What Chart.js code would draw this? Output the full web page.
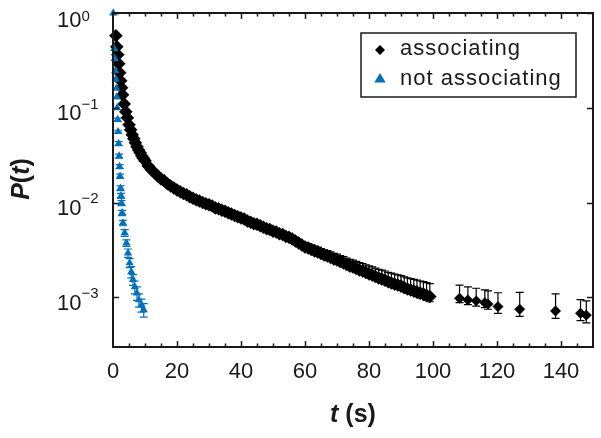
<!DOCTYPE html>
<html lang="en">
<head>
  <meta charset="UTF-8">
  <title>P(t)</title>
  <script src="https://cdn.jsdelivr.net/npm/chart.js"></script>
  <style>
    html, body {
      margin: 0;
      padding: 0;
      background: #fff;
    }
    #wrap {
      width: 601px;
      height: 438px;
    }
  </style>
</head>
<body>
  <div id="wrap"><canvas id="grafico" width="601" height="438"></canvas></div>

  <script>
    // associating: t (s), P(t), error bars (upper / lower)
    const assocT = [0.9, 1.2, 1.5, 1.8, 2.1, 2.4, 2.7, 3.0, 3.5, 4.0, 4.5, 5.0, 5.5, 6.0, 6.5, 7.0, 7.5, 8.0, 8.5, 9.0, 9.5, 10,
      11, 12, 13, 14, 15, 16, 17, 18, 19, 20, 21, 22, 23, 24, 25, 26, 27, 28, 29, 30,
      31, 32, 33, 34, 35, 36, 37, 38, 39, 40, 41, 42, 43, 44, 45, 46, 47, 48, 49, 50,
      51, 52, 53, 54, 55, 56, 57, 58, 59, 60, 61, 62, 63, 64, 65, 66, 67, 68, 69, 70,
      71, 72, 73, 74, 75, 76, 77, 78, 79, 80, 81, 82, 83, 84, 85, 86, 87, 88, 89, 90,
      91, 92, 93, 94, 95, 96, 97, 98, 99,
      108.3, 110.9, 113.5, 116.2, 117.2, 120.3, 127.1, 138.3, 146.1, 147.9];
    const assocP = [0.576, 0.440, 0.363, 0.291, 0.234, 0.193, 0.163, 0.137, 0.110, 0.0907, 0.0784, 0.0661, 0.0586, 0.0519, 0.0471, 0.0427, 0.0388, 0.0360, 0.0335, 0.0311, 0.0293, 0.0276,
      0.0244, 0.0222, 0.0206, 0.0191, 0.0178, 0.0170, 0.0158, 0.0150, 0.0143, 0.0136,
      0.0130, 0.0125, 0.0121, 0.0115, 0.0111, 0.0107, 0.0104, 0.0100, 0.0097, 0.0095,
      0.0092, 0.0088, 0.0086, 0.0083, 0.0081, 0.0078, 0.0076, 0.0073, 0.0071, 0.0069,
      0.0067, 0.0064, 0.0062, 0.0060, 0.0059, 0.0057, 0.0055, 0.0053, 0.0052, 0.0050,
      0.0049, 0.0047, 0.0046, 0.0044, 0.0043, 0.00414, 0.00394, 0.00375, 0.00358, 0.00340,
      0.00332, 0.00320, 0.00309, 0.00301, 0.00290, 0.00280, 0.00274, 0.00264, 0.00254, 0.00248,
      0.00239, 0.00231, 0.00222, 0.00214, 0.00209, 0.00202, 0.00195, 0.00190, 0.00183, 0.00177,
      0.00172, 0.00166, 0.00160, 0.00156, 0.00152, 0.00146, 0.00142, 0.00138, 0.00135, 0.00132,
      0.00127, 0.00123, 0.00120, 0.00117, 0.00114, 0.00111, 0.00109, 0.00105, 0.00102,
      0.00098, 0.00094, 0.00092, 0.00088, 0.00085, 0.00080, 0.00075, 0.00072, 0.00068, 0.00065];
    const assocErrUp = [0, 0, 0, 0, 0, 0, 0, 0, 0, 0, 0, 0, 0, 0, 0, 0, 0, 0, 0, 0, 0, 0,
      0.0003, 0.0003, 0.0003, 0.0003, 0.0003, 0.0003, 0.0003, 0.0003, 0.0003, 0.0003,
      0.0003, 0.0003, 0.0003, 0.0003, 0.0003, 0.0003, 0.0003, 0.0003, 0.0003, 0.0003,
      0.0003, 0.0003, 0.0003, 0.0003, 0.0003, 0.0003, 0.0003, 0.0003, 0.0003, 0.0003,
      0.0003, 0.0003, 0.0003, 0.0003, 0.0003, 0.0003, 0.0003, 0.0003, 0.0003, 0.0003,
      0.0003, 0.0003, 0.0003, 0.0003, 0.0003, 0.0003, 0.0003, 0.0003, 0.0003, 0.00038,
      0.00038, 0.00038, 0.00038, 0.00038, 0.00038, 0.00038, 0.00038, 0.00038, 0.00038, 0.00038,
      0.00038, 0.00038, 0.00038, 0.00038, 0.00038, 0.00038, 0.00038, 0.00038, 0.00038, 0.00038,
      0.00038, 0.00038, 0.00038, 0.00038, 0.00038, 0.00038, 0.00038, 0.00038, 0.00038, 0.00038,
      0.00038, 0.00038, 0.00038, 0.00038, 0.00038, 0.00038, 0.00038, 0.00038, 0.00038,
      0.00037, 0.00035, 0.00033, 0.00032, 0.00032, 0.00032, 0.00038, 0.00037, 0.00027, 0.00027];
    const assocErrDown = [0, 0, 0, 0, 0, 0, 0, 0, 0, 0, 0, 0, 0, 0, 0, 0, 0, 0, 0, 0, 0, 0,
      0.0001, 0.0001, 0.0001, 0.0001, 0.0001, 0.0001, 0.0001, 0.0001, 0.0001, 0.0001,
      0.0001, 0.0001, 0.0001, 0.0001, 0.0001, 0.0001, 0.0001, 0.0001, 0.0001, 0.0001,
      0.0001, 0.0001, 0.0001, 0.0001, 0.0001, 0.0001, 0.0001, 0.0001, 0.0001, 0.0001,
      0.0001, 0.0001, 0.0001, 0.0001, 0.0001, 0.0001, 0.0001, 0.0001, 0.0001, 0.0001,
      0.0001, 0.0001, 0.0001, 0.0001, 0.0001, 0.0001, 0.0001, 0.0001, 0.0001, 0.00012,
      0.00012, 0.00012, 0.00012, 0.00012, 0.00012, 0.00012, 0.00012, 0.00012, 0.00012, 0.00012,
      0.00012, 0.00012, 0.00012, 0.00012, 0.00012, 0.00012, 0.00012, 0.00012, 0.00012, 0.00012,
      0.00012, 0.00012, 0.00012, 0.00012, 0.00012, 0.00012, 0.00012, 0.00012, 0.00012, 0.00012,
      0.00012, 0.00012, 0.00012, 0.00012, 0.00012, 0.00012, 0.00012, 0.00012, 0.00012,
      0.0001, 0.0001, 0.00011, 0.0001, 0.0001, 0.00012, 0.00012, 0.00012, 0.00011, 0.00011];

    // not associating
    const notAssocT = [0.1, 0.4, 0.55, 0.7, 0.85, 1.0, 1.15, 1.3, 1.45, 1.6,
      1.75, 1.9, 2.05, 2.2, 2.35, 2.5, 2.65, 2.85, 3.1, 3.65,
      4.2, 4.7, 5.2, 5.7, 6.25, 6.8, 7.5, 8.1, 8.9, 9.6];
    const notAssocP = [1.0, 0.42, 0.33, 0.245, 0.20, 0.16, 0.13, 0.10, 0.075, 0.056,
      0.042, 0.031, 0.024, 0.019, 0.0142, 0.0118, 0.0099, 0.0078, 0.0061, 0.0048,
      0.00375, 0.00294, 0.00231, 0.00186, 0.00154, 0.00129, 0.00111, 0.00094, 0.00083, 0.00074];
    const notAssocErr = [0, 0, 0, 0, 0, 0, 0, 0, 0.003, 0.002,
      0.002, 0.0015, 0.0012, 0.001, 0.0008, 0.0007, 0.0006, 0.0005, 0.0004, 0.0004,
      0.0003, 0.0003, 0.00025, 0.00025, 0.0002, 0.0002, 0.00018, 0.00015, 0.00013, 0.00012];

    const xTicks = [0, 20, 40, 60, 80, 100, 120, 140];
    const yTicks = [1, 0.1, 0.01, 0.001];
    const yTickExp = ['0', '\u22121', '\u22122', '\u22123'];
    const legendLabels = ['associating', 'not associating'];

    const FONT = '"Liberation Sans", Arial, Helvetica, sans-serif';
    const INK = '#1a1a1a';
    const BLUE = '#0072BD';

    function pontos(xs, ys) {
      return xs.map((x, i) => ({ x: x, y: ys[i] }));
    }

    // error bars drawn under each dataset's markers
    const errorBars = {
      id: 'errorBars',
      beforeDatasetDraw(chart, args) {
        const ds = chart.data.datasets[args.index];
        if (!ds.errUp) return;
        const { ctx } = chart;
        const sx = chart.scales.x, sy = chart.scales.y;
        ctx.save();
        ctx.strokeStyle = ds.borderColor;
        ctx.lineWidth = 1.2;
        ds.data.forEach((p, i) => {
          const up = ds.errUp[i], dn = ds.errDown[i];
          if (!up && !dn) return;
          const px = sx.getPixelForValue(p.x);
          const y1 = sy.getPixelForValue(p.y + up);
          const y2 = sy.getPixelForValue(Math.max(p.y - dn, 1e-6));
          ctx.beginPath();
          ctx.moveTo(px, y1); ctx.lineTo(px, y2);
          ctx.moveTo(px - 4, y1); ctx.lineTo(px + 4, y1);
          ctx.moveTo(px - 4, y2); ctx.lineTo(px + 4, y2);
          ctx.stroke();
        });
        ctx.restore();
      }
    };

    function diamante(ctx, x, y, r) {
      ctx.beginPath();
      ctx.moveTo(x, y - r); ctx.lineTo(x + r, y); ctx.lineTo(x, y + r); ctx.lineTo(x - r, y);
      ctx.closePath();
      ctx.fill();
    }

    function triangulo(ctx, x, y, r) {
      ctx.beginPath();
      ctx.moveTo(x, y - r);
      ctx.lineTo(x + r * 0.95, y + r * 0.6);
      ctx.lineTo(x - r * 0.95, y + r * 0.6);
      ctx.closePath();
      ctx.fill();
    }

    // frame, inward ticks, labels, titles, legend
    const eixos = {
      id: 'eixos',
      afterDraw(chart) {
        const { ctx, chartArea: a } = chart;
        const sx = chart.scales.x, sy = chart.scales.y;
        ctx.save();
        ctx.strokeStyle = INK;
        ctx.fillStyle = INK;

        ctx.lineWidth = 1.5;
        ctx.beginPath();
        for (let v = 5; v < 150; v += 5) {
          const px = Math.round(sx.getPixelForValue(v)) + 0.5;
          const len = v % 20 === 0 ? 6 : 3.5;
          ctx.moveTo(px, a.bottom); ctx.lineTo(px, a.bottom - len);
          ctx.moveTo(px, a.top); ctx.lineTo(px, a.top + len);
        }
        yTicks.forEach((v) => {
          const py = Math.round(sy.getPixelForValue(v)) + 0.5;
          ctx.moveTo(a.left, py); ctx.lineTo(a.left + 6, py);
          ctx.moveTo(a.right, py); ctx.lineTo(a.right - 6, py);
        });
        ctx.stroke();

        ctx.lineWidth = 2;
        ctx.strokeRect(a.left, a.top, a.right - a.left, a.bottom - a.top);

        // x tick labels
        ctx.font = '22px ' + FONT;
        ctx.textAlign = 'center';
        ctx.textBaseline = 'alphabetic';
        xTicks.forEach((v) => {
          ctx.fillText(String(v), sx.getPixelForValue(v), 377.5);
        });

        // y tick labels 10^n
        ctx.textAlign = 'left';
        yTicks.forEach((v, i) => {
          const py = sy.getPixelForValue(v);
          const base = Math.max(py + 12.3, 27.3);
          ctx.font = '22px ' + FONT;
          ctx.fillText('10', 57, base);
          const w = ctx.measureText('10').width;
          ctx.font = '15px ' + FONT;
          ctx.fillText(yTickExp[i], 57 + w, Math.max(base - 11.5, 20.5));
        });

        // x title: t (s)
        const partesX = [['t', 'italic bold 25px '], [' (s)', 'bold 25px ']];
        let total = 0;
        partesX.forEach((p) => { ctx.font = p[1] + FONT; total += ctx.measureText(p[0]).width; });
        let cx = (a.left + a.right) / 2 - total / 2;
        partesX.forEach((p) => {
          ctx.font = p[1] + FONT;
          ctx.fillText(p[0], cx, 421.5);
          cx += ctx.measureText(p[0]).width;
        });

        // y title: P(t)
        const partesY = [['P', 'italic bold 25px '], ['(', 'bold 25px '], ['t', 'italic bold 25px '], [')', 'bold 25px ']];
        total = 0;
        partesY.forEach((p) => { ctx.font = p[1] + FONT; total += ctx.measureText(p[0]).width; });
        ctx.save();
        ctx.translate(28.5, (a.top + a.bottom) / 2 - 1);
        ctx.rotate(-Math.PI / 2);
        let cy = -total / 2;
        partesY.forEach((p) => {
          ctx.font = p[1] + FONT;
          ctx.fillText(p[0], cy, 0);
          cy += ctx.measureText(p[0]).width;
        });
        ctx.restore();

        // legend
        ctx.lineWidth = 1.5;
        ctx.fillStyle = '#fff';
        ctx.fillRect(361, 33, 215, 64);
        ctx.strokeRect(361, 33, 215, 64);
        ctx.fillStyle = '#000';
        diamante(ctx, 380, 50, 5);
        ctx.fillStyle = BLUE;
        triangulo(ctx, 380, 79, 6);
        ctx.fillStyle = INK;
        ctx.font = '22px ' + FONT;
        ctx.letterSpacing = '1px';
        ctx.fillText(legendLabels[0], 400, 55);
        ctx.fillText(legendLabels[1], 400, 85);
        ctx.letterSpacing = '0px';

        ctx.restore();
      }
    };

    function gerarGrafico() {
      const ctx = document.getElementById('grafico').getContext('2d');
      new Chart(ctx, {
        type: 'scatter',
        data: {
          datasets: [
            {
              label: legendLabels[0],
              data: pontos(assocT, assocP),
              errUp: assocErrUp,
              errDown: assocErrDown,
              pointStyle: 'rectRot',
              // dense part overlaps into a thick band; isolated late points are smaller
              pointRadius: (c) => (c.raw && c.raw.x > 100 ? 5.2 : 6.5),
              pointBackgroundColor: '#000',
              pointBorderColor: '#000',
              pointBorderWidth: 0.5,
              borderColor: '#000',
              backgroundColor: '#000',
              clip: false,
              order: 1
            },
            {
              label: legendLabels[1],
              data: pontos(notAssocT, notAssocP),
              errUp: notAssocErr,
              errDown: notAssocErr,
              pointStyle: 'triangle',
              pointRadius: 4.8,
              pointBackgroundColor: BLUE,
              pointBorderWidth: 0,
              borderColor: BLUE,
              backgroundColor: BLUE,
              clip: false,
              order: 0
            }
          ]
        },
        options: {
          responsive: false,
          animation: false,
          devicePixelRatio: 1,
          layout: { padding: { left: 113, right: 8, top: 13, bottom: 91 } },
          plugins: {
            legend: { display: false },
            tooltip: { enabled: false }
          },
          scales: {
            x: { type: 'linear', min: 0, max: 150, display: false },
            y: { type: 'logarithmic', min: 3e-4, max: 1, display: false }
          }
        },
        plugins: [errorBars, eixos]
      });
    }

    document.addEventListener('DOMContentLoaded', gerarGrafico);
  </script>
</body>
</html>
